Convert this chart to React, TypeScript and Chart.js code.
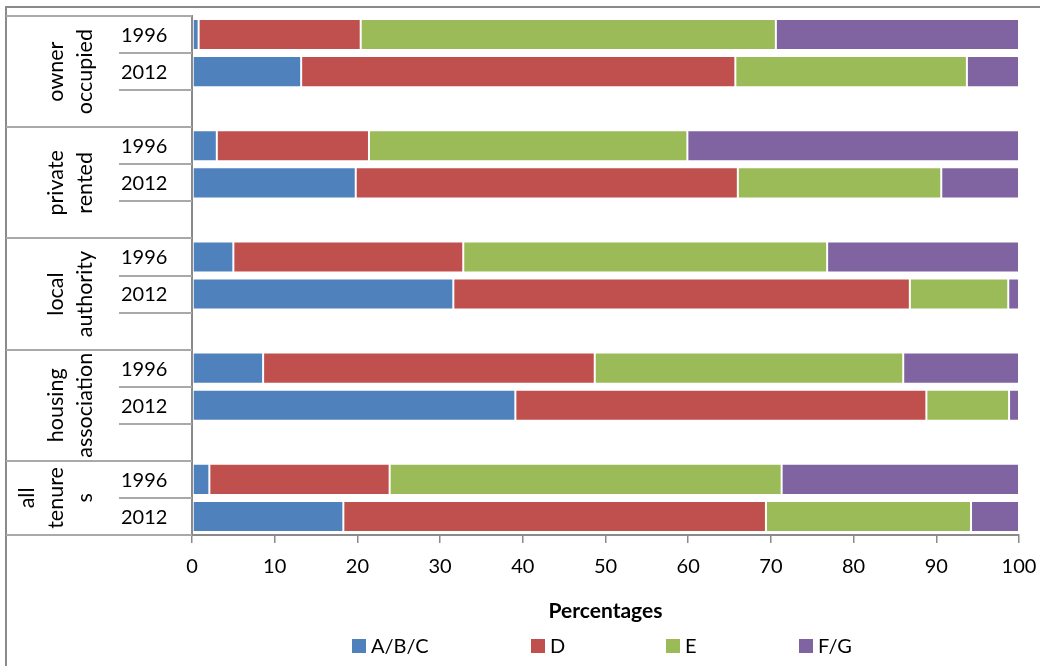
import { useEffect, useRef } from 'react';
import { Chart, registerables } from 'chart.js';

Chart.register(...registerables);

// ---- data ----
const tenureGroups: string[][] = [
  ['owner', 'occupied'],
  ['private', 'rented'],
  ['local', 'authority'],
  ['housing', 'association'],
  ['all', 'tenure', 's'],
];
const years = ['1996', '2012'];
const seriesNames = ['A/B/C', 'D', 'E', 'F/G'];
const seriesColors = ['#4F81BD', '#C0504D', '#9BBB59', '#8064A2'];
// order: owner 1996, owner 2012, private 1996, private 2012, LA 1996, LA 2012, HA 1996, HA 2012, all 1996, all 2012
const bandABC = [0.8, 13.2, 3.0, 19.8, 5.0, 31.6, 8.6, 39.1, 2.1, 18.3];
const bandD = [19.6, 52.5, 18.4, 46.2, 27.8, 55.2, 40.1, 49.7, 21.8, 51.1];
const bandE = [50.2, 28.0, 38.5, 24.6, 44.0, 11.9, 37.3, 10.0, 47.4, 24.8];
const bandFG = [29.4, 6.3, 40.1, 9.4, 23.2, 1.3, 14.0, 1.2, 28.7, 5.8];
const xMin = 0;
const xMax = 100;
const xStep = 10;
const xTitle = 'Percentages';

// ---- build rows (with a blank row between groups) ----
const rowLabels: string[] = [];
const rowGroup: number[] = [];
const rowSource: (number | null)[] = [];
tenureGroups.forEach((_, g) => {
  years.forEach((y, k) => {
    rowLabels.push(y);
    rowGroup.push(g);
    rowSource.push(g * years.length + k);
  });
  if (g < tenureGroups.length - 1) {
    rowLabels.push('');
    rowGroup.push(g);
    rowSource.push(null);
  }
});
const allBands = [bandABC, bandD, bandE, bandFG];

const FONT = 'Lato';
const LINE = '#a9a9a9';
const AXIS = '#8a8a8a';
const legendX = [352, 531, 666, 799];

const framePlugin = {
  id: 'frame',
  afterDraw(chart: any) {
    const ctx = chart.ctx as CanvasRenderingContext2D;
    const yS = chart.scales.y;
    const area = chart.chartArea;
    const n = rowLabels.length;
    const step = n > 1 ? yS.getPixelForValue(1) - yS.getPixelForValue(0) : 0;
    const boundary = (i: number) => yS.getPixelForValue(i) - step / 2;
    ctx.save();
    // outer border
    ctx.strokeStyle = AXIS;
    ctx.lineWidth = 2;
    ctx.beginPath();
    ctx.moveTo(6, 666);
    ctx.lineTo(6, 7);
    ctx.lineTo(1040, 7);
    ctx.stroke();
    // category box lines
    ctx.strokeStyle = LINE;
    ctx.lineWidth = 2;
    for (let i = 0; i <= n; i++) {
      const y = i === n ? area.bottom : boundary(i);
      const full = i === 0 || i === n || rowGroup[i] !== rowGroup[i - 1];
      ctx.beginPath();
      ctx.moveTo(full ? 6 : 119, Math.round(y));
      ctx.lineTo(area.left, Math.round(y));
      ctx.stroke();
    }
    // year labels
    ctx.fillStyle = '#000';
    ctx.font = `20px ${FONT}`;
    ctx.textAlign = 'left';
    ctx.textBaseline = 'middle';
    rowLabels.forEach((lab, i) => {
      if (lab) ctx.fillText(lab, 121, yS.getPixelForValue(i) + 1);
    });
    // group labels (rotated)
    tenureGroups.forEach((lines, g) => {
      const rows = rowGroup.map((gg, i) => (gg === g ? i : -1)).filter((i) => i >= 0);
      const top = boundary(rows[0]);
      const bot = g === tenureGroups.length - 1 ? area.bottom : boundary(rows[rows.length - 1] + 1);
      const yc = (top + bot) / 2;
      lines.forEach((ln, li) => {
        const x = 85 - (lines.length - 1 - li) * 29;
        ctx.save();
        ctx.translate(x, yc);
        ctx.rotate(-Math.PI / 2);
        ctx.textAlign = 'center';
        ctx.textBaseline = 'middle';
        ctx.font = `21.5px ${FONT}`;
        ctx.fillStyle = '#000';
        ctx.fillText(ln, 0, 0);
        ctx.restore();
      });
    });
    // legend
    chart.data.datasets.forEach((ds: any, i: number) => {
      const x = legendX[i];
      ctx.fillStyle = ds.backgroundColor;
      ctx.fillRect(x, 639, 14, 14);
      ctx.fillStyle = '#000';
      ctx.font = `20px ${FONT}`;
      ctx.textAlign = 'left';
      ctx.textBaseline = 'middle';
      ctx.fillText(ds.label, x + 19, 647);
    });
    ctx.restore();
  },
};

export default function App() {
  const ref = useRef<HTMLCanvasElement>(null);
  useEffect(() => {
    if (!ref.current) return;
    const chart = new Chart(ref.current, {
      type: 'bar',
      data: {
        labels: rowLabels,
        datasets: seriesNames.map((name, s) => ({
          label: name,
          data: rowSource.map((src) => (src === null ? null : allBands[s][src])),
          backgroundColor: seriesColors[s],
          borderColor: 'rgba(255,255,255,0.45)',
          borderWidth: 1,
          borderSkipped: false,
          categoryPercentage: 1,
          barPercentage: 0.84,
        })),
      },
      options: {
        indexAxis: 'y',
        animation: false,
        responsive: false,
        devicePixelRatio: 1,
        layout: { padding: { left: 0, right: 21, top: 16, bottom: 0 } },
        plugins: { legend: { display: false }, tooltip: { enabled: false }, title: { display: false } },
        scales: {
          x: {
            stacked: true,
            min: xMin,
            max: xMax,
            ticks: { stepSize: xStep, color: '#000', font: { family: FONT, size: 20 }, padding: 12, maxRotation: 0 },
            grid: { drawOnChartArea: false, drawTicks: true, tickLength: 8, color: AXIS, lineWidth: 1.5 },
            border: { display: true, color: AXIS, width: 2 },
            title: {
              display: true,
              text: xTitle,
              color: '#000',
              font: { family: FONT, size: 21, weight: 'bold' },
              padding: { top: 0, bottom: 42 },
            },
            afterFit: (scale: any) => {
              scale.height = 131;
              scale.paddingLeft = 0;
              scale.paddingRight = 0;
            },
          },
          y: {
            stacked: true,
            ticks: { display: false },
            grid: { display: false },
            border: { display: true, color: AXIS, width: 2 },
            afterFit: (scale: any) => {
              scale.width = 192;
            },
          },
        },
      },
      plugins: [framePlugin],
    } as any);
    return () => chart.destroy();
  }, []);
  return (
    <div style={{ position: 'absolute', left: 0, top: 0, width: 1040, height: 666, background: '#fff' }}>
      <canvas ref={ref} width={1040} height={666} />
    </div>
  );
}
